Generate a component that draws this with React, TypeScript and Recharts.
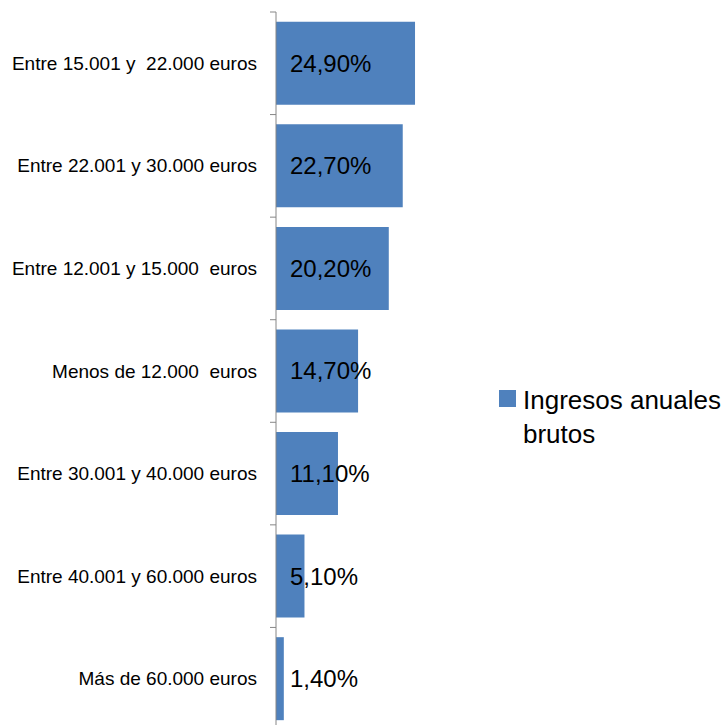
import { BarChart, Bar, XAxis, YAxis, Legend, LabelList } from 'recharts';

const categories = [
  'Entre 15.001 y  22.000 euros',
  'Entre 22.001 y 30.000 euros',
  'Entre 12.001 y 15.000  euros',
  'Menos de 12.000  euros',
  'Entre 30.001 y 40.000 euros',
  'Entre 40.001 y 60.000 euros',
  'Más de 60.000 euros',
];
const ingresos = [24.9, 22.7, 20.2, 14.7, 11.1, 5.1, 1.4];
const seriesName = 'Ingresos anuales brutos';

const data = categories.map((label, i) => ({ label, value: ingresos[i] }));

const BAR_COLOR = '#4F81BD';
const AXIS_COLOR = '#868686';
const FONT = '"Liberation Sans", Arial, sans-serif';

const CHART_W = 726;
const CHART_H = 730;
const MARGIN = { top: 12, right: 282.5, bottom: 0, left: 0 };
const AXIS_W = 276;
const TICK_LEN = 6;
const TICK_GAP = 13;
const BAND = (CHART_H - MARGIN.top - MARGIN.bottom) / categories.length;

const fmt = (v: number) => v.toFixed(2).replace('.', ',') + '%';

// label plus a small tick at the band boundary above it (and below the last one)
function CategoryTick(props: any) {
  const { x, y, payload, index } = props;
  const ax = x + TICK_GAP + TICK_LEN;
  const last = index === categories.length - 1;
  return (
    <g>
      <line x1={ax - TICK_LEN} x2={ax} y1={y - BAND / 2} y2={y - BAND / 2} stroke={AXIS_COLOR} />
      {last && (
        <line x1={ax - TICK_LEN} x2={ax} y1={y + BAND / 2} y2={y + BAND / 2} stroke={AXIS_COLOR} />
      )}
      <text
        x={x}
        y={y}
        textAnchor="end"
        dominantBaseline="central"
        fontSize={19}
        fontFamily={FONT}
        fill="#000"
        style={{ whiteSpace: 'pre' }}
      >
        {payload.value}
      </text>
    </g>
  );
}

function LegendBox() {
  return (
    <div style={{ display: 'flex', alignItems: 'flex-start', fontFamily: FONT }}>
      <div style={{ width: 17, height: 17, background: BAR_COLOR, marginTop: 7, marginRight: 7, flex: 'none' }} />
      <div style={{ width: 205, fontSize: 26, lineHeight: '34px', color: '#000' }}>{seriesName}</div>
    </div>
  );
}

export default function App() {
  return (
    <div style={{ position: 'absolute', left: 0, top: 0, width: 726, height: 725, overflow: 'hidden', background: '#fff' }}>
      <BarChart
        width={CHART_W}
        height={CHART_H}
        data={data}
        layout="vertical"
        margin={MARGIN}
        barCategoryGap="9.5%"
      >
        <XAxis type="number" domain={[0, 30]} hide />
        <YAxis
          type="category"
          dataKey="label"
          width={AXIS_W}
          axisLine={{ stroke: AXIS_COLOR }}
          tickLine={false}
          tickSize={TICK_LEN}
          tickMargin={TICK_GAP}
          tick={<CategoryTick />}
          interval={0}
        />
        <Legend
          layout="horizontal"
          align="center"
          verticalAlign="middle"
          content={<LegendBox />}
          wrapperStyle={{ left: 499, top: 383, right: 'auto', bottom: 'auto', width: 230 }}
        />
        <Bar dataKey="value" name={seriesName} fill={BAR_COLOR} isAnimationActive={false}>
          <LabelList
            dataKey="value"
            position="insideLeft"
            offset={14}
            formatter={(v: any) => fmt(Number(v))}
            style={{ fill: '#000', fontSize: 24, fontFamily: FONT }}
          />
        </Bar>
      </BarChart>
    </div>
  );
}
